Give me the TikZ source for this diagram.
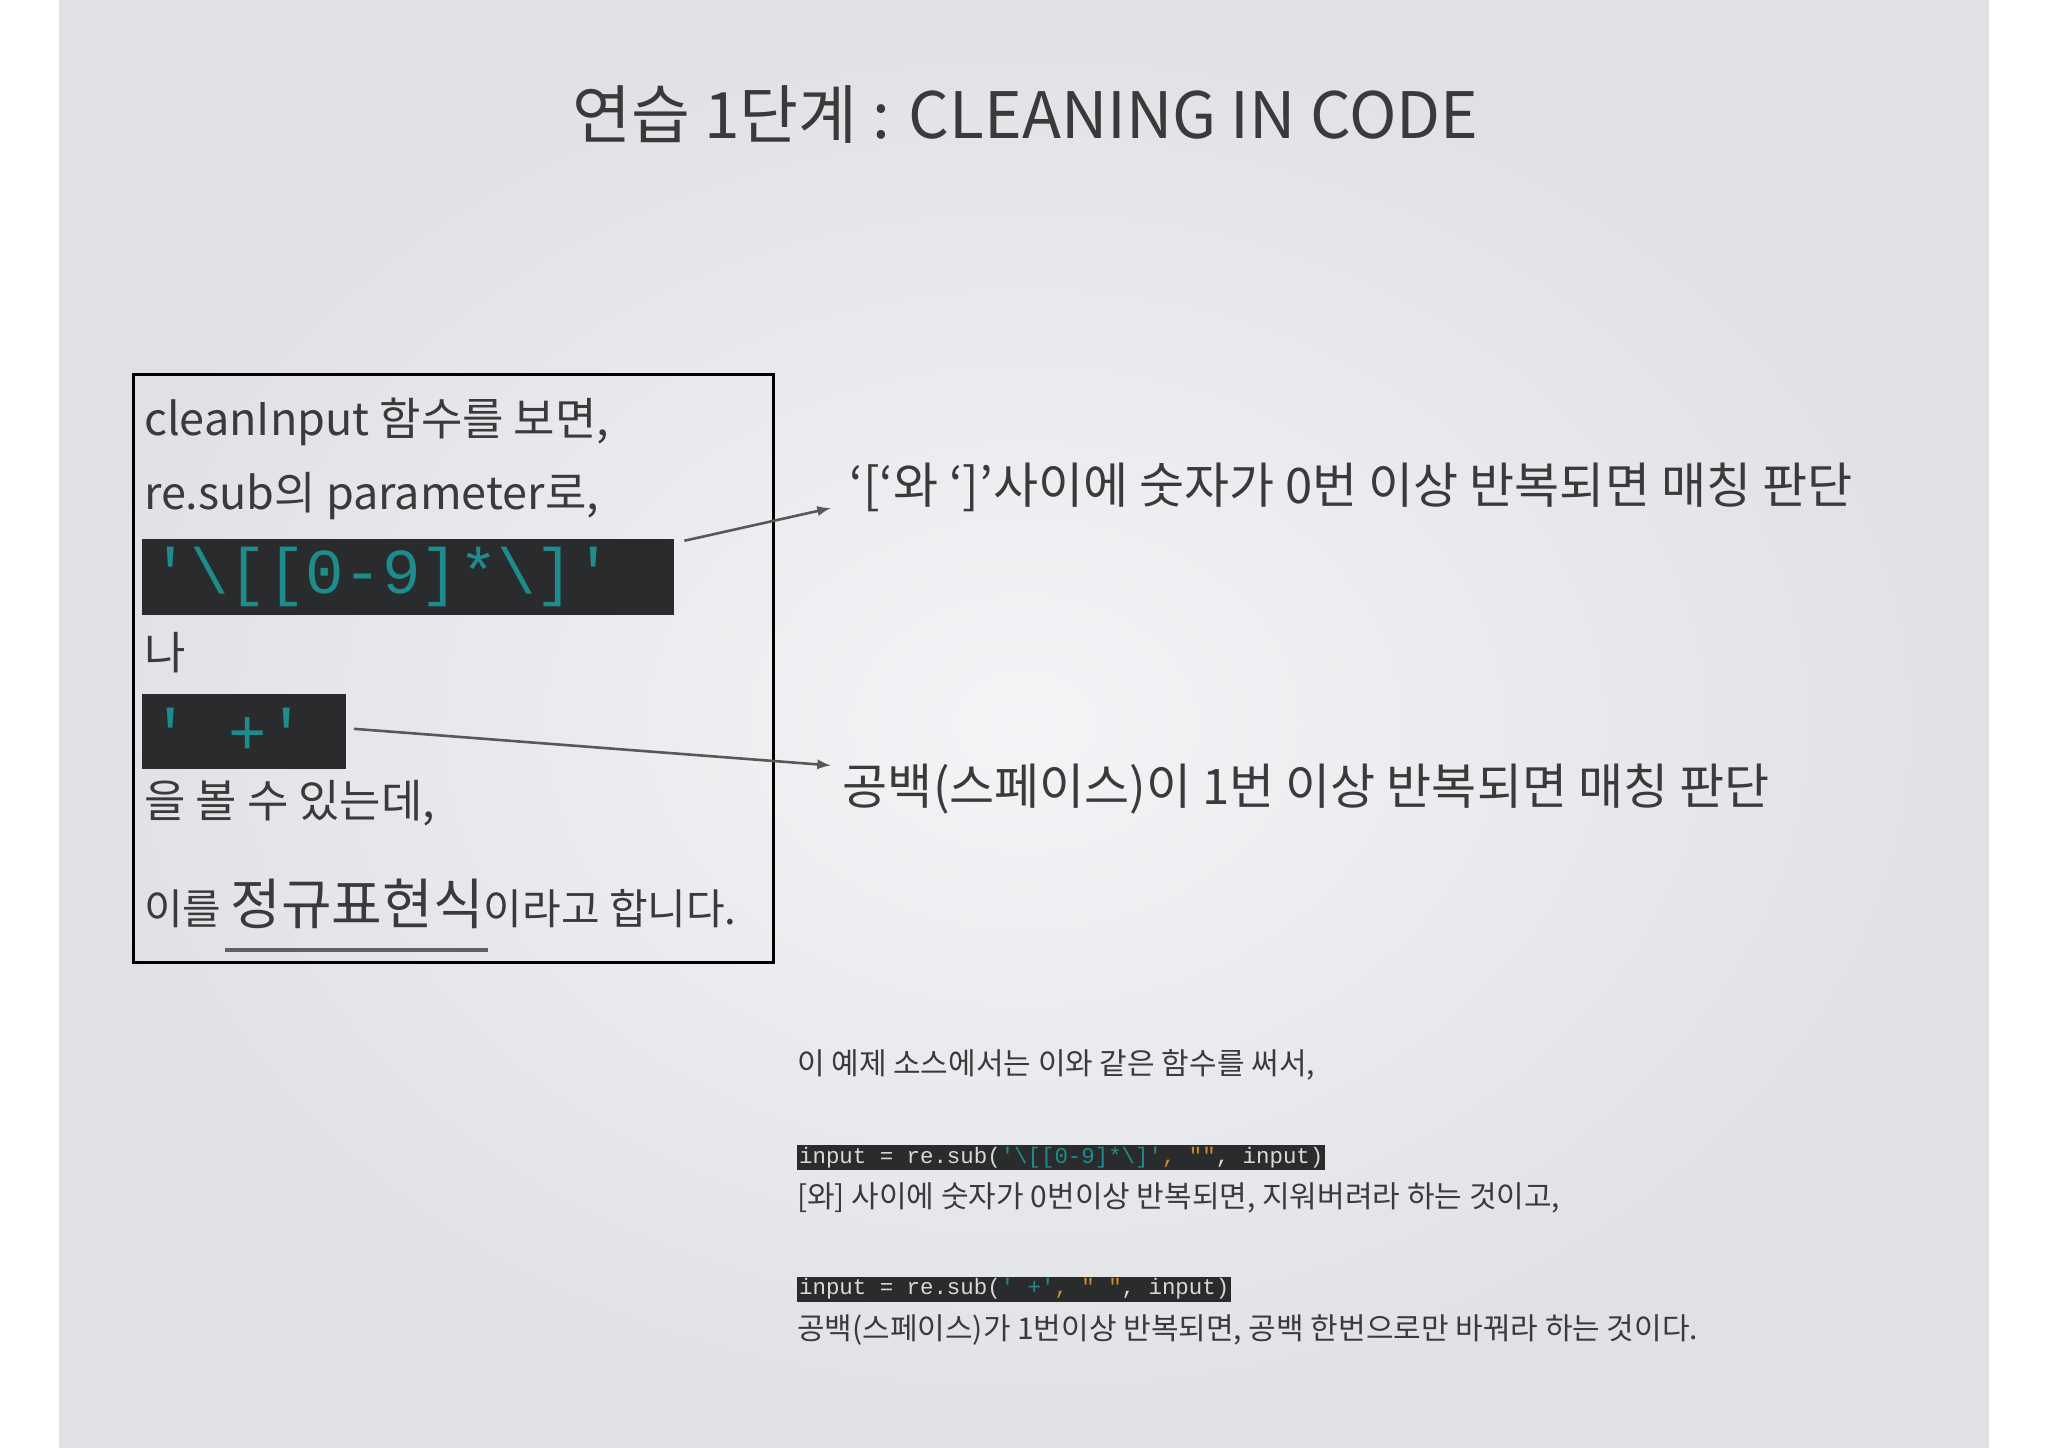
\documentclass[tikz,border=0pt]{standalone}
\usepackage{fontspec}
\setmainfont{Noto Sans CJK KR}
\setmonofont{Liberation Mono}
\begin{document}
\definecolor{ink}{HTML}{3A3A3A}
\definecolor{teal2}{HTML}{1E8C8C}
\definecolor{org}{HTML}{D4892A}
\definecolor{bar}{HTML}{2A2B2C}
\definecolor{bgA}{HTML}{F3F4F6}
\definecolor{bgB}{HTML}{DFE1E5}
\begin{tikzpicture}[x=0.6531pt,y=-0.6531pt,
  txt/.style={anchor=west,inner sep=0pt,text=ink},
  codebar/.style={fill=bar,inner sep=1pt,anchor=west,font=\ttfamily,text=white!85!black},
  arr/.style={draw=ink!85,line width=1.3pt,-latex}]
\useasboundingbox (0,0) rectangle (1568,1108);
\fill[white] (0,0) rectangle (1568,1108);
\shade[inner color=bgA,outer color=bgB] (45,0) rectangle (1523,1108);
\node[text=ink,font=\fontsize{32}{36}\selectfont] (title) at (785,88) {연습 1단계 : CLEANING IN CODE};
\draw[black,line width=1.6pt] (102,287) rectangle (592,737);
\node[txt,font=\fontsize{22.5}{24}\selectfont] (l1) at (110,323) {cleanInput 함수를 보면,};
\node[txt,font=\fontsize{22.5}{24}\selectfont] (l2) at (110,380) {re.sub의 parameter로,};
\fill[bar] (109,413) rectangle (516,471);
\node[txt,font=\fontsize{32}{34}\ttfamily,text=teal2] (c1) at (116,442) {'\textbackslash[[0-9]*\textbackslash]'};
\coordinate (c1e) at (524,414);
\node[txt,font=\fontsize{22.5}{24}\selectfont] (l3) at (110,500) {나};
\fill[bar] (109,531) rectangle (265,589);
\node[txt,font=\fontsize{32}{34}\ttfamily,text=teal2] (c2) at (116,560) {' +'};
\coordinate (c2e) at (271,558);
\node[txt,font=\fontsize{22.5}{24}\selectfont] (l4) at (110,615) {을 볼 수 있는데,};
\node[txt,font=\fontsize{21}{24}\selectfont] (l5) at (110,692) {이를 {\fontsize{27.5}{30}\selectfont 정규표현식}이라고 합니다.};
\draw[ink!80,line width=2pt] (172,727) -- (374,727);
\node[txt,font=\fontsize{24.5}{28}\selectfont] (r1) at (650,373) {‘[‘와 ‘]’사이에 숫자가 0번 이상 반복되면 매칭 판단};
\node[txt,font=\fontsize{24.5}{28}\selectfont] (r2) at (645,604) {공백(스페이스)이 1번 이상 반복되면 매칭 판단};
\coordinate (a1) at (636,389);
\coordinate (a2) at (636,586);
\draw[arr] (c1e) -- (a1);
\draw[arr] (c2e) -- (a2);
\node[txt,font=\fontsize{15}{17}\selectfont] (b1) at (610,815) {이 예제 소스에서는 이와 같은 함수를 써서,};
\node[codebar,font=\fontsize{11.2}{13}\ttfamily] (k1) at (610,886) {input = re.sub({\color{teal2}'\textbackslash[[0-9]*\textbackslash]'}{\color{org},} {\color{org}""}, input)};
\node[txt,font=\fontsize{15}{17}\selectfont] (b2) at (610,917) {[와] 사이에 숫자가 0번이상 반복되면, 지워버려라 하는 것이고,};
\node[codebar,font=\fontsize{11.2}{13}\ttfamily] (k2) at (610,987) {input = re.sub({\color{teal2}' +'}{\color{org},} {\color{org}" "}, input)};
\node[txt,font=\fontsize{15}{17}\selectfont] (b3) at (610,1018) {공백(스페이스)가 1번이상 반복되면, 공백 한번으로만 바꿔라 하는 것이다.};
\end{tikzpicture}
\end{document}
